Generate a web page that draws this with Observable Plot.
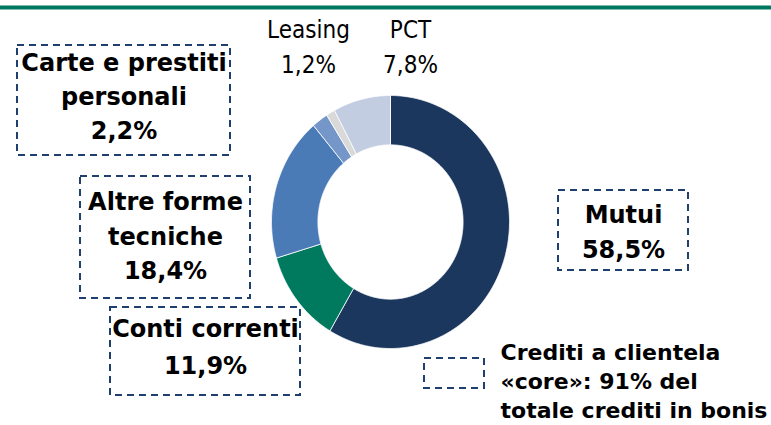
<!DOCTYPE html>
<html><head><meta charset="utf-8">
<script src="https://cdn.jsdelivr.net/npm/d3@7"></script>
<script src="https://cdn.jsdelivr.net/npm/@observablehq/plot@0.6"></script>
<style>body{margin:0;background:#fff}</style>
</head><body><div id="chart"></div>
<script>
// ---- data ----
const categories = ["Mutui", "Conti correnti", "Altre forme tecniche", "Carte e prestiti personali", "Leasing", "PCT"];
const values = [58.5, 11.9, 18.4, 2.2, 1.2, 7.8];
const valueLabels = ["58,5%", "11,9%", "18,4%", "2,2%", "1,2%", "7,8%"];
const sliceColors = ["#1b375e", "#007a5f", "#4a7bb7", "#7496c9", "#d9d9d9", "#c3cde2"];
const noteText = "Crediti a clientela\n«core»: 91% del\ntotale crediti in bonis";

// ---- layout ----
const W = 771, H = 425;
const cx = 390, cy = 221.5, rx = 119, ry = 126.5, inner = 0.61;

const total = d3.sum(values);
const polys = [];
let acc = 0;
values.forEach((v, i) => {
  const a0 = acc / total * 2 * Math.PI;
  acc += v;
  const a1 = acc / total * 2 * Math.PI;
  const n = Math.max(2, Math.ceil((a1 - a0) / (Math.PI / 360)));
  const pts = [];
  for (let k = 0; k <= n; k++) {
    const a = a0 + (a1 - a0) * k / n;
    pts.push({x: cx + rx * Math.sin(a), y: cy - ry * Math.cos(a)});
  }
  for (let k = n; k >= 0; k--) {
    const a = a0 + (a1 - a0) * k / n;
    pts.push({x: cx + rx * inner * Math.sin(a), y: cy - ry * inner * Math.cos(a)});
  }
  pts.push(pts[0]);
  pts.forEach(p => polys.push({...p, cat: categories[i], color: sliceColors[i]}));
});

// box labels: category index, box edges, text block center y, line height
const boxLayout = [
  {i: 3, x1: 17, x2: 230, y1: 45, y2: 155, ty: 94, lh: 1.42, text: "Carte e prestiti\npersonali"},
  {i: 2, x1: 80, x2: 250, y1: 176, y2: 298, ty: 233, lh: 1.45, text: "Altre forme\ntecniche"},
  {i: 1, x1: 110, x2: 300, y1: 307, y2: 395, ty: 343, lh: 1.55, text: "Conti correnti"},
  {i: 0, x1: 558, x2: 688, y1: 190, y2: 270, ty: 228.5, lh: 1.45, text: "Mutui"}
];
const boxes = boxLayout.map(b => ({...b, label: b.text + "\n" + valueLabels[b.i]}));
const topLabels = [
  {i: 4, x: 308, y: 44},
  {i: 5, x: 410, y: 44}
].map(d => ({...d, label: categories[d.i] + "\n" + valueLabels[d.i]}));

const boxTextMarks = boxes.map(b =>
  Plot.text([b], {x: d => (d.x1 + d.x2) / 2, y: "ty", text: "label", lineHeight: b.lh, fontSize: 24, fontWeight: "bold", fill: "#000", fontFamily: "DejaVu Sans", textAnchor: "middle", lineAnchor: "middle"})
);

const plot = Plot.plot({
  width: W, height: H,
  margin: 0,
  x: {domain: [0, W], range: [0, W], axis: null},
  y: {domain: [0, H], range: [0, H], axis: null},
  color: {type: "identity"},
  style: {background: "#fff"},
  marks: [
    Plot.ruleY([7], {stroke: "#00785f", strokeWidth: 4}),
    Plot.line(polys, {x: "x", y: "y", z: "cat", fill: "color", stroke: "#fff", strokeWidth: 0.8, curve: "linear"}),
    Plot.rect(boxes, {x1: "x1", x2: "x2", y1: "y1", y2: "y2", fill: "none", stroke: "#1f3f6e", strokeWidth: 2, strokeDasharray: "7,5"}),
    ...boxTextMarks,
    Plot.text(topLabels, {x: "x", y: "y", text: "label", fontSize: 24, fill: "#000", fontFamily: "DejaVu Sans Condensed, sans-serif", fontWeight: 300, lineHeight: 1.45, lineAnchor: "middle"}),
    Plot.rect([{x1: 424, x2: 484, y1: 358, y2: 388}], {x1: "x1", x2: "x2", y1: "y1", y2: "y2", fill: "none", stroke: "#1f3f6e", strokeWidth: 2, strokeDasharray: "7,5"}),
    Plot.text([noteText], {x: 500, y: 379, text: d => d, textAnchor: "start", lineAnchor: "middle", lineHeight: 1.33, fontSize: 22, fontWeight: "bold", fill: "#000", fontFamily: "DejaVu Sans"})
  ]
});
document.getElementById("chart").appendChild(plot);
</script>
</body></html>
